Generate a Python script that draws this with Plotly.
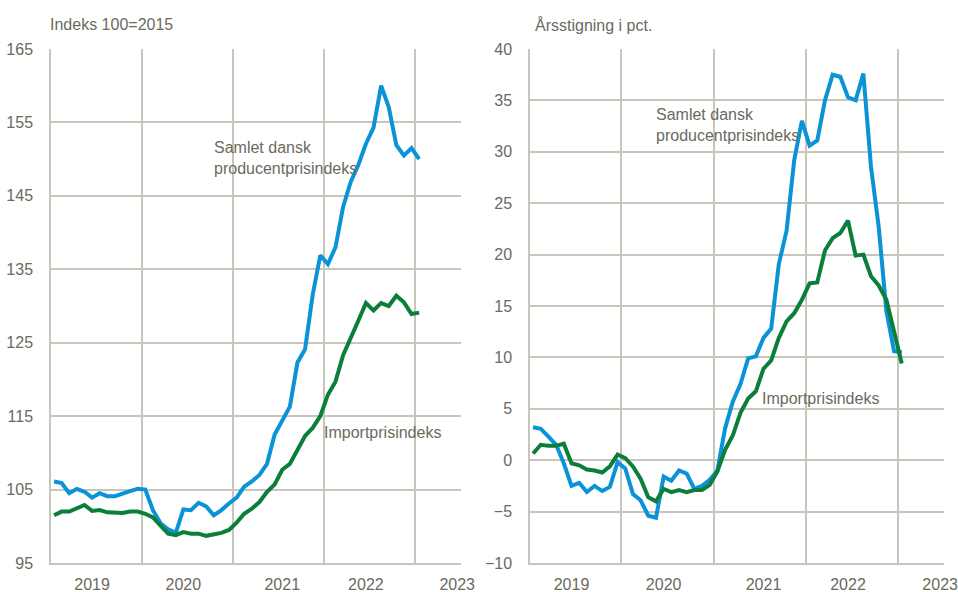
import plotly.graph_objects as go

months = list(range(49))  # Jan 2019 .. Jan 2023
year_ticks = [5, 17, 30, 41, 53]
year_labels = ["2019", "2020", "2021", "2022", "2023"]

ppi_index = [106.1, 105.9, 104.5, 105.1, 104.7, 103.9, 104.5, 104.1, 104.1, 104.5,
             104.8, 105.1, 105.0, 102.2, 100.4, 99.6, 99.1, 102.3, 102.2, 103.2,
             102.7, 101.5, 102.2, 103.1, 103.9, 105.4, 106.1, 107.0, 108.5, 112.5,
             114.5, 116.3, 122.3, 124.1, 131.5, 136.9, 135.7, 138.0, 143.5, 146.9,
             149.2, 152.1, 154.3, 160.0, 157.1, 151.9, 150.5, 151.5, 150.0]
imp_index = [101.5, 102.0, 102.0, 102.5, 102.9, 102.1, 102.2, 101.9, 101.9, 101.8,
             102.0, 102.0, 101.7, 101.2, 100.1, 99.0, 98.8, 99.2, 99.0, 99.0,
             98.7, 98.9, 99.1, 99.5, 100.5, 101.7, 102.4, 103.3, 104.7, 105.7,
             107.7, 108.5, 110.5, 112.3, 113.4, 115.0, 117.9, 119.7, 123.3, 125.8,
             128.0, 130.4, 129.4, 130.4, 130.0, 131.4, 130.5, 128.9, 129.1]
ppi_growth = [3.2, 3.05, 2.3, 1.5, -0.3, -2.5, -2.2, -3.1, -2.5, -3.0,
              -2.6, -0.2, -0.8, -3.3, -3.9, -5.4, -5.6, -1.6, -2.0, -1.0,
              -1.3, -2.8, -2.5, -1.9, -1.0, 3.1, 5.7, 7.4, 9.9, 10.1,
              11.9, 12.8, 19.1, 22.3, 29.2, 33.0, 30.6, 31.1, 35.0, 37.5,
              37.3, 35.3, 35.0, 37.6, 28.5, 22.7, 14.5, 10.6, 10.5]
imp_growth = [0.65, 1.5, 1.4, 1.4, 1.6, -0.3, -0.5, -0.9, -1.0, -1.2,
              -0.6, 0.55, 0.2, -0.6, -1.8, -3.6, -4.0, -2.8, -3.1, -2.9,
              -3.1, -2.9, -2.9, -2.4, -1.1, 1.0, 2.4, 4.6, 6.0, 6.7,
              8.9, 9.7, 11.9, 13.5, 14.3, 15.6, 17.2, 17.3, 20.4, 21.6,
              22.1, 23.3, 19.9, 20.0, 17.9, 17.0, 15.6, 12.5, 9.4]

BLUE = "#0A93D6"
GREEN = "#0B7F3A"
TXT = "#6B6A5E"
GRID = "#C8C5BA"
FONT = "Liberation Sans, Arial, sans-serif"

fig = go.Figure()
fig.add_trace(go.Scatter(x=months, y=ppi_index, mode="lines", line=dict(color=BLUE, width=4),
                         xaxis="x", yaxis="y", showlegend=False))
fig.add_trace(go.Scatter(x=months, y=imp_index, mode="lines", line=dict(color=GREEN, width=4),
                         xaxis="x", yaxis="y", showlegend=False))
fig.add_trace(go.Scatter(x=months, y=ppi_growth, mode="lines", line=dict(color=BLUE, width=4),
                         xaxis="x2", yaxis="y2", showlegend=False))
fig.add_trace(go.Scatter(x=months, y=imp_growth, mode="lines", line=dict(color=GREEN, width=4),
                         xaxis="x2", yaxis="y2", showlegend=False))

W, H = 958, 592
ydom = [1 - 563 / H, 1 - 49 / H]

xcommon = dict(range=[-0.4, 53.5], tickmode="array", tickvals=year_ticks, ticktext=year_labels,
               showgrid=False, zeroline=False, showline=True, linecolor=GRID, linewidth=1.5,
               ticks="", ticklabelstandoff=6, automargin=False, ticklabeloverflow="allow",
               tickfont=dict(family=FONT, size=16, color=TXT),
               minor=dict(tick0=-0.5, dtick=12, showgrid=True, gridcolor=GRID, gridwidth=1.5, ticks=""))
ycommon = dict(showgrid=True, gridcolor=GRID, gridwidth=1.5, zeroline=False, showline=True,
               linecolor=GRID, linewidth=1.5, ticks="", ticklabelstandoff=13, automargin=False,
               ticklabeloverflow="allow",
               tickfont=dict(family=FONT, size=16, color=TXT))

fig.update_layout(
    width=W, height=H, margin=dict(l=0, r=0, t=0, b=0, autoexpand=False),
    paper_bgcolor="white", plot_bgcolor="white", hovermode=False,
    xaxis=dict(domain=[51 / W, 461 / W], anchor="y", **xcommon),
    yaxis=dict(domain=ydom, anchor="x", range=[95, 165], tickvals=[95, 105, 115, 125, 135, 145, 155, 165], **ycommon),
    xaxis2=dict(domain=[530 / W, 944 / W], anchor="y2", **xcommon),
    yaxis2=dict(domain=ydom, anchor="x2", range=[-10, 40], tickvals=list(range(-10, 41, 5)), **ycommon),
    font=dict(family=FONT, color=TXT),
)

ann_font = dict(family=FONT, size=16, color=TXT)
fig.add_annotation(text="Indeks 100=2015", xref="paper", yref="paper", x=48 / W, y=1 - 25 / H,
                   xanchor="left", yanchor="middle", showarrow=False, font=ann_font)
fig.add_annotation(text="Årsstigning i pct.", xref="paper", yref="paper", x=533 / W, y=1 - 25 / H,
                   xanchor="left", yanchor="middle", showarrow=False, font=ann_font)
fig.add_annotation(text="Samlet dansk<br>producentprisindeks", xref="x", yref="y", x=20.8, y=150.2,
                   xanchor="left", yanchor="middle", align="left", showarrow=False, font=ann_font)
fig.add_annotation(text="Importprisindeks", xref="x", yref="y", x=35.2, y=112.8,
                   xanchor="left", yanchor="middle", showarrow=False, font=ann_font)
fig.add_annotation(text="Samlet dansk<br>producentprisindeks", xref="x2", yref="y2", x=15.7, y=32.56,
                   xanchor="left", yanchor="middle", align="left", showarrow=False, font=ann_font)
fig.add_annotation(text="Importprisindeks", xref="x2", yref="y2", x=29.6, y=6.05,
                   xanchor="left", yanchor="middle", showarrow=False, font=ann_font)

fig.write_html("out.html",
               config={"displayModeBar": False},
               post_script="document.body.style.margin='0';document.body.style.overflow='hidden';")
